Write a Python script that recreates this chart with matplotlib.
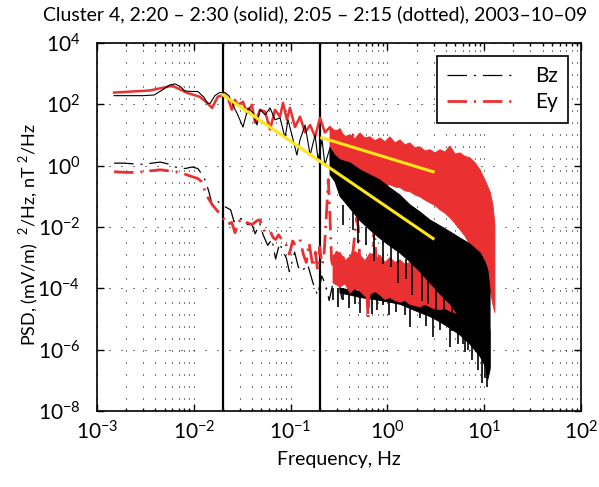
import numpy as np
import matplotlib
matplotlib.use("Agg")
import matplotlib.pyplot as plt
from matplotlib.ticker import LogLocator, NullLocator, FixedLocator

plt.rcParams['font.family'] = ['Lato', 'DejaVu Sans']
plt.rcParams['mathtext.fontset'] = 'custom'
plt.rcParams['mathtext.rm'] = 'Lato'
plt.rcParams['lines.scale_dashes'] = False

RED = '#ea3030'
YELLOW = '#ffe619'
DASHDOT = (0, (14, 5, 1.5, 5))

# ---- Bz 2:20-2:30 (solid) ----
bz_sol_f = [1.5e-3, 2.0e-3, 3.0e-3, 3.9e-3, 4.8e-3, 5.6e-3, 6.4e-3, 7.2e-3, 8.1e-3, 9.6e-3,
            1.1e-2, 1.27e-2, 1.38e-2, 1.47e-2, 1.65e-2, 1.85e-2, 2.1e-2, 2.3e-2, 2.5e-2, 2.65e-2, 2.8e-2,
            0.0322, 0.0363, 0.0409, 0.045, 0.0483, 0.0545, 0.0613, 0.069, 0.0777, 0.0875,
            0.094, 0.103, 0.116, 0.125, 0.141, 0.159, 0.179, 0.192, 0.211, 0.226,
            0.255, 0.287, 0.323, 0.364, 0.411]
bz_sol_p = [190, 190, 190, 200, 300, 420, 460, 380, 270, 260,
            260, 170, 110, 105, 190, 240, 240, 190, 110, 70, 50,
            18, 76, 52, 21, 66, 45, 76, 31, 36, 8,
            31, 10, 2.2, 6.9, 21, 2.2, 10, 1.5, 6.9, 1.06,
            3.8, 0.73, 1.5, 0.5, 1.06]
# dense part: envelope + deepest spikes
bz_sol_up_f = [0.255, 0.287, 0.323, 0.411, 0.521, 0.66, 0.839, 1.06, 1.35, 1.71, 2.17, 2.75, 3.49,
               4.43, 5.62, 7.13, 9.05, 10.2, 10.9, 11.5]
bz_sol_up_p = [3.8, 2.2, 1.55, 1.23, 0.73, 0.5, 0.34, 0.19, 0.11, 0.053, 0.031, 0.017, 0.011,
               7.0e-3, 4.4e-3, 2.8e-3, 1.45e-3, 7.3e-4, 4.0e-4, 9.0e-5]
bz_sol_lo_f = [0.255, 0.287, 0.323, 0.411, 0.521, 0.66, 0.839, 1.06, 1.35, 1.71, 2.17, 2.75, 3.49,
               4.43, 5.62, 7.13, 9.05, 10.2, 10.9, 11.5]
bz_sol_lo_p = [0.5, 0.3, 0.1, 0.04, 0.016, 8e-3, 4.2e-3, 2.4e-3, 1.4e-3, 7.3e-4, 3.5e-4,
               1.5e-4, 6.6e-5, 3.1e-5, 1.1e-5, 3.7e-6, 1.0e-6, 3.2e-7, 1.05e-7, 2.2e-7]
bz_sol_spk_f = [0.35, 0.44, 0.5, 0.6, 0.72, 0.9, 1.1, 1.3, 1.55, 1.8, 2.3, 2.6, 3.2, 3.8, 4.7,
                5.3, 6.0, 6.8]
bz_sol_spk_top = [0.05, 0.03, 0.02, 0.01, 6e-3, 3.5e-3, 2.4e-3, 1.5e-3, 9e-4, 7e-4, 3e-4, 2e-4,
                  1e-4, 5e-5, 3e-5, 1.5e-5, 8e-6, 5e-6]
bz_sol_spk_bot = [0.012, 8e-3, 3e-3, 2.5e-3, 8e-4, 6e-4, 5e-4, 1.5e-4, 2e-4, 6e-5, 4e-5, 3e-5,
                  1.2e-5, 1.5e-5, 4e-6, 3e-6, 1.5e-6, 1e-6]

# ---- Ey 2:20-2:30 (solid) ----
ey_sol_f = [1.5e-3, 3.5e-3, 6.0e-3, 8.5e-3, 1.15e-2, 1.37e-2, 1.54e-2, 1.77e-2, 2.05e-2,
            0.0224, 0.0247, 0.0266, 0.0285, 0.0322, 0.0354, 0.0398, 0.0428, 0.0483, 0.0545,
            0.0613, 0.069, 0.0777, 0.0834, 0.0915, 0.0983, 0.111, 0.125, 0.141, 0.159,
            0.179, 0.201, 0.226, 0.255, 0.287, 0.323, 0.381, 0.44]
ey_sol_p = [240, 280, 400, 235, 175, 111, 76, 175, 205,
            161, 66, 139, 96, 120, 52, 96, 25, 66, 57,
            15, 66, 39, 111, 31, 76, 18, 39, 12, 21,
            8.7, 36, 12, 18, 4.8, 15, 2.6, 10]
ey_sol_band_f = [0.255, 0.287, 0.323, 0.365, 0.411, 0.462, 0.521, 0.587, 0.66, 0.745, 0.839, 0.944,
                 1.06, 1.2, 1.35, 1.52, 1.71, 1.93, 2.17, 2.44, 2.75, 3.1, 3.49, 3.94, 4.43, 4.99,
                 5.62, 6.33, 7.13, 8.04, 9.05, 10.2, 11.5, 12.3, 12.9]
ey_sol_up_p = [18, 14, 14.7, 9.0, 10, 7.5, 11.7, 8.0, 8.7, 6.5, 8.0, 6.0, 8.7, 5.5,
               6.9, 4.8, 5.5, 3.8, 4.1, 3.0, 3.3, 2.6, 3.3, 2.8, 4.4, 2.4, 2.6,
               2.0, 1.8, 1.25, 0.73, 0.34, 0.14, 0.053, 0.012]
ey_sol_lo_p = [1.5, 0.8, 0.73, 0.3, 0.24, 0.4, 0.275, 0.3, 0.34, 0.25, 0.30, 0.22, 0.24, 0.2,
               0.19, 0.15, 0.14, 0.11, 0.096, 0.075, 0.061, 0.05, 0.036, 0.028, 0.02, 0.013, 8.1e-3,
               5e-3, 2.6e-3, 1.56e-3, 8.5e-4, 4.0e-4, 9e-5, 2.9e-5, 1.6e-5]

# ---- Bz 2:05-2:15 (dotted) ----
bz_dot_f = [1.5e-3, 1.9e-3, 2.3e-3, 3.0e-3, 3.7e-3, 4.5e-3, 5.6e-3, 6.4e-3, 8.1e-3, 9.6e-3,
            1.1e-2, 1.25e-2, 1.33e-2, 1.45e-2, 1.55e-2, 1.75e-2, 2.0e-2, 2.4e-2, 2.6e-2, 0.03,
            0.035, 0.04, 0.043, 0.048, 0.052, 0.058, 0.064, 0.07, 0.077, 0.083,
            0.09, 0.097, 0.11, 0.12, 0.13, 0.15, 0.17, 0.19, 0.21, 0.23,
            0.25, 0.28, 0.31, 0.34]
bz_dot_p = [1.2, 1.2, 1.15, 1.1, 1.2, 1.3, 1.1, 0.9, 0.8, 0.9,
            0.8, 0.45, 0.3, 0.12, 0.05, 0.07, 0.05, 0.036, 0.015, 0.02,
            0.012, 0.012, 6e-3, 0.013, 5.5e-3, 2.5e-3, 4e-3, 9e-4, 3e-3, 1.6e-3,
            1.0e-3, 3.5e-4, 1.5e-3, 5e-4, 3.5e-4, 6e-4, 1.5e-4, 6e-5, 2.5e-4, 1.3e-4,
            4e-5, 2e-4, 2.5e-4, 4e-5]
bz_dot_band_f = [0.323, 0.411, 0.521, 0.66, 0.839, 1.06, 1.35, 1.71, 2.17, 2.75, 3.49, 4.43,
                 5.62, 7.13, 9.05, 10.2, 11.5]
bz_dot_up_p = [1.0e-4, 9e-5, 8e-5, 7.5e-5, 7e-5, 6.5e-5, 6e-5, 5.5e-5, 5e-5, 4.5e-5,
               4e-5, 3.5e-5, 3e-5, 2.5e-5, 1.8e-5, 1.0e-5, 4.5e-6]
bz_dot_lo_p = [7e-5, 6e-5, 5e-5, 4.5e-5, 4e-5, 3.5e-5, 3e-5, 2.2e-5, 1.6e-5, 1.2e-5,
               8e-6, 5e-6, 3e-6, 1.5e-6, 6e-7, 3e-7, 2.5e-7]
bz_dot_spk_f = [0.274, 0.31, 0.347, 0.4, 0.46, 0.521, 0.614, 0.7, 0.78, 0.9, 1.05, 1.22, 1.52,
                1.71, 2.17, 2.5, 2.94, 3.49, 4.43, 5.36, 6.33, 7.5, 8.6, 9.5, 10.2, 10.7]
bz_dot_spk_bot = [4.3e-5, 2.5e-5, 4.3e-5, 2.2e-5, 3e-5, 1.6e-5, 2.9e-5, 1.5e-5, 2.0e-5, 2.9e-5,
                  1.3e-5, 1.7e-5, 1.4e-5, 5.6e-6, 1.1e-5, 6e-6, 2.6e-6, 4.5e-6, 1.25e-6, 1.5e-6,
                  8.6e-7, 4.7e-7, 2.2e-7, 8.4e-8, 1.2e-7, 6.3e-8]

# ---- Ey 2:05-2:15 (dotted) ----
ey_dot_f = [1.5e-3, 2.0e-3, 2.6e-3, 3.2e-3, 4.5e-3, 6.0e-3, 7.2e-3, 9.1e-3, 1.1e-2, 1.2e-2,
            1.3e-2, 1.4e-2, 1.55e-2, 1.8e-2, 2.0e-2, 2.2e-2, 0.0247, 0.0266, 0.029, 0.032,
            0.035, 0.04, 0.045, 0.048, 0.054, 0.061, 0.066, 0.07, 0.075, 0.083,
            0.09, 0.097, 0.105, 0.11, 0.125, 0.135, 0.145, 0.155, 0.17, 0.18,
            0.19, 0.2, 0.21, 0.22, 0.235, 0.245, 0.255, 0.265, 0.28, 0.3,
            0.32, 0.35, 0.38, 0.41, 0.44, 0.48, 0.5, 0.52, 0.56, 0.6,
            0.63, 0.66, 0.7, 0.73, 0.76, 0.8]
ey_dot_p = [0.63, 0.6, 0.6, 0.65, 0.73, 0.65, 0.6, 0.46, 0.38, 0.3,
            0.15, 0.09, 0.053, 0.03, 0.02, 0.012, 0.014, 6.5e-3, 0.015, 0.018,
            0.014, 0.012, 0.016, 0.017, 7e-3, 7.6e-3, 4.5e-3, 3.9e-3, 5.5e-3, 3.5e-3,
            2.6e-3, 1.3e-3, 3.5e-3, 2.8e-3, 4e-3, 1.3e-3, 7e-4, 3e-3, 5e-4, 1.5e-3,
            4e-4, 2.2e-3, 6e-4, 9e-4, 0.03, 0.35, 0.02, 8e-4, 4e-4, 1.5e-3,
            4e-4, 1e-3, 3e-4, 8e-4, 1.5e-3, 0.02, 0.01, 6e-4, 2e-4, 5e-4,
            1e-5, 3e-4, 1e-3, 0.012, 1e-3, 4e-4]
ey_dot_band_f = [0.274, 0.323, 0.365, 0.411, 0.462, 0.521, 0.587, 0.66, 0.745, 0.839, 0.944, 1.06,
                 1.2, 1.35, 1.52, 1.71, 1.93, 2.17, 2.44, 2.75, 3.1, 3.49, 3.94, 4.43, 4.99, 5.62]
ey_dot_up_p = [1.2e-3, 1.5e-3, 8e-4, 1.1e-3, 1.6e-3, 1.2e-3, 8e-4, 1.4e-3, 9e-4, 1.2e-3,
               7e-4, 1.0e-3, 7e-4, 8.5e-4, 6e-4, 7e-4, 5e-4, 5.5e-4, 4e-4, 4.5e-4, 3.5e-4,
               3.2e-4, 2.5e-4, 2.2e-4, 1.7e-4, 1.4e-4]
ey_dot_lo_p = [1.5e-4, 1.1e-4, 1.4e-4, 7e-5, 1.0e-4, 8e-5, 5.5e-5, 6.2e-5, 8e-5, 6e-5,
               4.3e-5, 5e-5, 4e-5, 3.5e-5, 4e-5, 3e-5, 2.7e-5, 2.5e-5, 3e-5, 2.5e-5,
               2.1e-5, 2.0e-5, 2.2e-5, 1.8e-5, 1.6e-5, 1.5e-5]

# power-law fits (yellow) and interval markers
fit_bz_f = [0.02, 2.96]
fit_bz_p = [200, 4.2e-3]
fit_ey_f = [0.21, 2.96]
fit_ey_p = [8.1, 0.63]
boundaries = [0.02, 0.2]


def band(ax, f_up, p_up, f_lo, p_lo, color, z):
    xs = list(f_up) + list(f_lo)[::-1]
    ys = list(p_up) + list(p_lo)[::-1]
    ax.fill(xs, ys, color=color, lw=0.6, edgecolor=color, zorder=z)


fig = plt.figure(figsize=(5.99, 4.87), dpi=100)
ax = fig.add_axes([0.162, 0.156, 0.808, 0.756])

for b in boundaries:
    ax.axvline(b, color='k', lw=1.6, zorder=1.5)

# dotted-interval spectra
ax.plot(bz_dot_f, bz_dot_p, color='k', lw=0.9, linestyle=DASHDOT, zorder=2, label='Bz')
band(ax, bz_dot_band_f, bz_dot_up_p, bz_dot_band_f, bz_dot_lo_p, 'k', 2)
ax.vlines(bz_dot_spk_f, [1e-4] * len(bz_dot_spk_f), bz_dot_spk_bot, color='k', lw=1.2, zorder=2)
ax.plot(ey_dot_f, ey_dot_p, color=RED, lw=2.0, linestyle=DASHDOT, zorder=3, label='Ey')
band(ax, ey_dot_band_f, ey_dot_up_p, ey_dot_band_f, ey_dot_lo_p, RED, 3)

# solid-interval spectra
ax.plot(ey_sol_f, ey_sol_p, color=RED, lw=1.8, zorder=4)
band(ax, ey_sol_band_f, ey_sol_up_p, ey_sol_band_f, ey_sol_lo_p, RED, 4)
ax.plot(bz_sol_f, bz_sol_p, color='k', lw=0.8, zorder=5)
band(ax, bz_sol_up_f, bz_sol_up_p, bz_sol_lo_f, bz_sol_lo_p, 'k', 5)
ax.vlines(bz_sol_spk_f, bz_sol_spk_top, bz_sol_spk_bot, color='k', lw=1.2, zorder=5)

ax.plot(fit_bz_f, fit_bz_p, color=YELLOW, lw=2.2, zorder=6)
ax.plot(fit_ey_f, fit_ey_p, color=YELLOW, lw=2.2, zorder=6)

ax.set_xscale('log')
ax.set_yscale('log')
ax.set_xlim(1e-3, 1e2)
ax.set_ylim(1e-8, 1e4)
ax.yaxis.set_major_locator(FixedLocator([1e-8, 1e-6, 1e-4, 1e-2, 1, 1e2, 1e4]))
ax.yaxis.set_minor_locator(NullLocator())
ax.xaxis.set_minor_locator(LogLocator(base=10, subs=np.arange(2, 10), numticks=20))

grid_style = dict(color='k', lw=0.75, linestyle=(0, (0.72, 7.92)))
ax.grid(True, which='both', axis='x', **grid_style)
ax.grid(True, which='major', axis='y', **grid_style)
ax.set_axisbelow(True)

ax.tick_params(which='both', direction='in', top=True, right=True, labelsize=15, width=1)
ax.tick_params(which='major', length=5)
ax.tick_params(which='minor', length=2.5)
ax.tick_params(axis='x', which='major', pad=7)
ax.tick_params(axis='y', which='major', pad=12)
for s in ax.spines.values():
    s.set_linewidth(1.2)

ax.set_xlabel('Frequency, Hz', fontsize=14, labelpad=5)
ax.set_ylabel(r'PSD, (mV/m)  $^{\mathdefault{2}}$/Hz, nT $^{\mathdefault{2}}$/Hz', fontsize=13)
ax.yaxis.set_label_coords(-0.115, 0.48)
fig.text(315 / 599, 1 - 14 / 487,
         'Cluster 4, 2:20 – 2:30 (solid), 2:05 – 2:15 (dotted), 2003–10–09',
         fontsize=14, ha='center', va='center')

leg = ax.legend(loc='upper right', bbox_to_anchor=(0.973, 0.965), borderaxespad=0,
                fontsize=15, handlelength=3.3, handletextpad=0.9, labelspacing=0.3,
                borderpad=0.5, fancybox=False, framealpha=1, edgecolor='k')
leg.get_frame().set_linewidth(1.2)

fig.savefig('out.png', dpi=100)
